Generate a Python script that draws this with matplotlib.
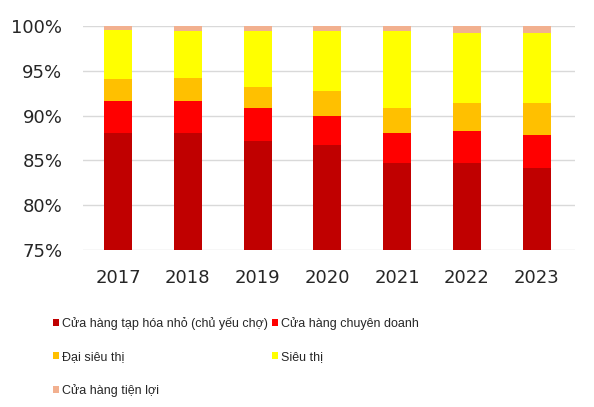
import matplotlib.pyplot as plt
import numpy as np

# 데이터 (그림에서 읽은 누적 비율, %)
years = ['2017', '2018', '2019', '2020', '2021', '2022', '2023']
labels = ['Cửa hàng tạp hóa nhỏ (chủ yếu chợ)', 'Cửa hàng chuyên doanh',
          'Đại siêu thị', 'Siêu thị', 'Cửa hàng tiện lợi']
tap_hoa = [88.1, 88.1, 87.2, 86.7, 84.7, 84.7, 84.2]
chuyen_doanh = [3.5, 3.5, 3.6, 3.3, 3.4, 3.6, 3.6]
dai_sieu_thi = [2.5, 2.6, 2.4, 2.7, 2.8, 3.1, 3.6]
sieu_thi = [5.5, 5.2, 6.2, 6.7, 8.5, 7.85, 7.85]
tien_loi = [0.4, 0.6, 0.6, 0.6, 0.6, 0.75, 0.75]
colors = ['#C00000', '#FF0000', '#FFC000', '#FFFF00', '#F2B08F']

fig = plt.figure(figsize=(5.94, 4.07), dpi=100)
ax = fig.add_axes([0.14, 0.386, 0.828, 0.55])

x = np.arange(len(years))
series = [tap_hoa, chuyen_doanh, dai_sieu_thi, sieu_thi, tien_loi]
bottom = np.zeros(len(years))
bars = []
for vals, c, lab in zip(series, colors, labels):
    b = ax.bar(x, vals, width=0.4, bottom=bottom, color=c, label=lab, zorder=3)
    bars.append(b)
    bottom += np.array(vals)

ax.set_ylim(75, 100)
ax.set_xlim(-0.5, 6.55)
ax.set_yticks(np.arange(75, 101, 5))
ax.set_yticklabels(['%d%%' % v for v in range(75, 101, 5)])
ax.set_xticks(x)
ax.set_xticklabels(years)
ax.tick_params(length=0, labelsize=13, labelcolor='#262626')
ax.tick_params(axis='x', pad=14)
ax.tick_params(axis='y', pad=15)
ax.grid(axis='y', color='#D9D9D9', lw=1, zorder=0)
for s in ax.spines.values():
    s.set_visible(False)

# 범례: 행 순서대로 보이게 재배열
order = [0, 2, 4, 1, 3]
leg = fig.legend([bars[i] for i in order], [labels[i] for i in order],
                 ncol=2, loc='upper left', bbox_to_anchor=(0.07, 0.25),
                 frameon=False, handlelength=0.5, handleheight=0.5,
                 handletextpad=0.25, columnspacing=0.3, labelspacing=1.7,
                 prop={'family': ['Liberation Sans', 'DejaVu Sans'], 'size': 9})
for t in leg.get_texts():
    t.set_color('#262626')

plt.savefig('out.png', dpi=100)
